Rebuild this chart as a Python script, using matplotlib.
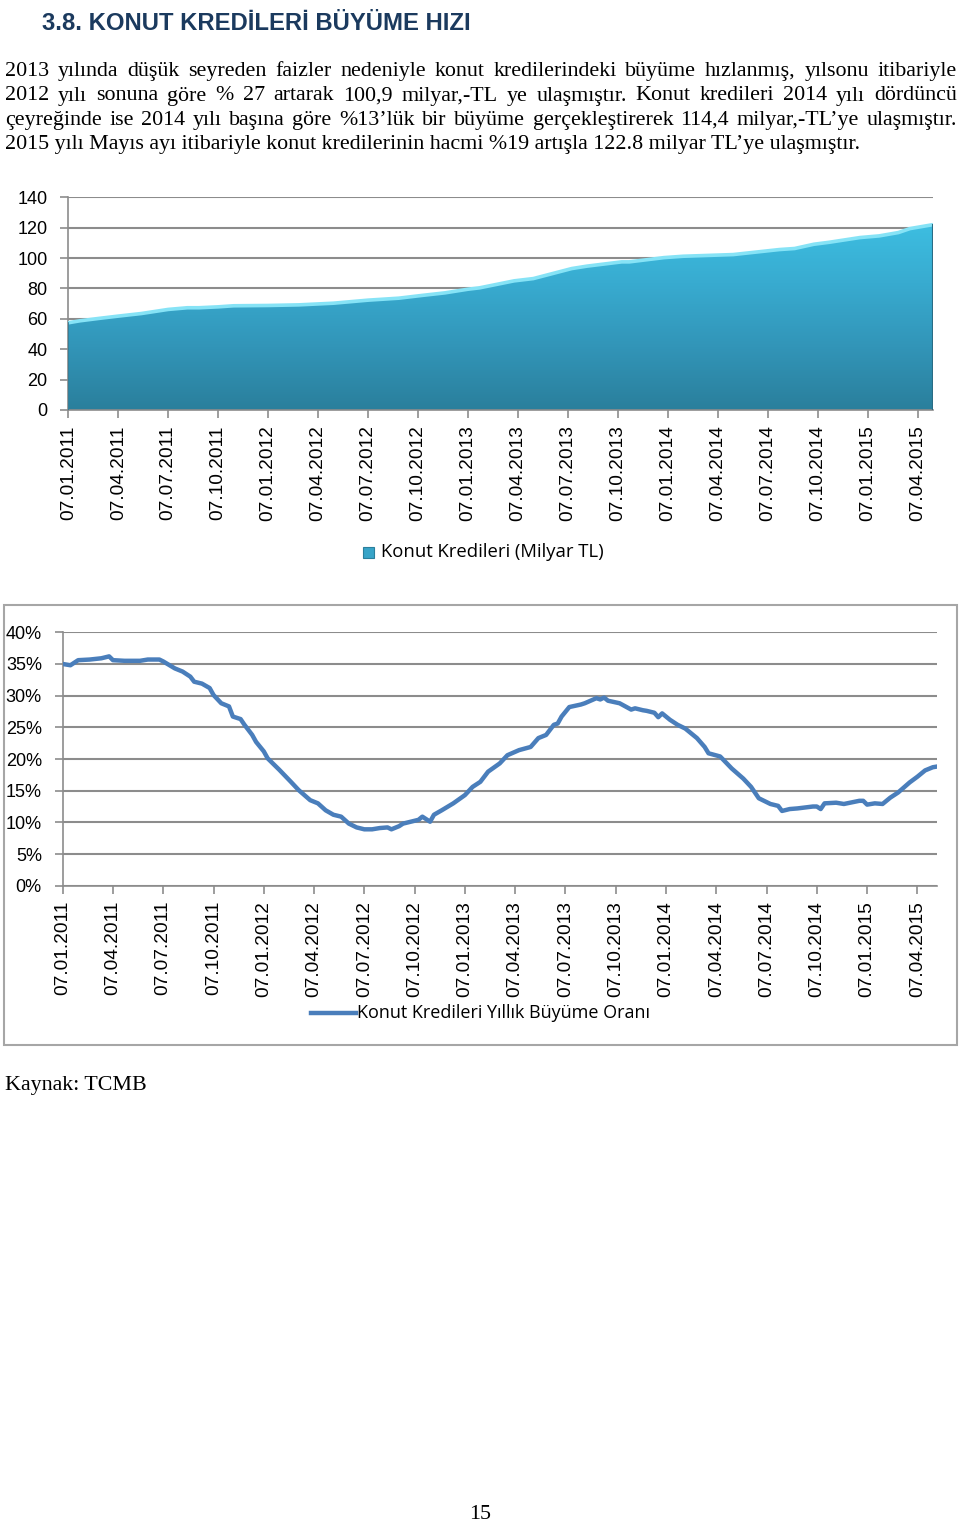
import numpy as np
import matplotlib
matplotlib.use("Agg")
import matplotlib.pyplot as plt
from matplotlib.patches import Rectangle
from matplotlib.lines import Line2D
from matplotlib.colors import LinearSegmentedColormap

# ---------------- data ----------------
quarter_labels = ["07.01.2011", "07.04.2011", "07.07.2011", "07.10.2011",
                  "07.01.2012", "07.04.2012", "07.07.2012", "07.10.2012",
                  "07.01.2013", "07.04.2013", "07.07.2013", "07.10.2013",
                  "07.01.2014", "07.04.2014", "07.07.2014", "07.10.2014",
                  "07.01.2015", "07.04.2015"]
weeks_per_quarter = 13

# Konut Kredileri (Milyar TL) - week index since 07.01.2011
level_weeks = [0, 3, 8, 13, 19, 26, 31, 34, 39, 43, 52, 60, 69, 78, 86, 92, 98, 104, 107, 116,
               121, 131, 135, 144, 146, 155, 160, 173, 177, 185, 189, 194, 198, 206, 211, 216, 219, 225]
level_values = [57.4, 58.7, 60.3, 61.8, 63.5, 66.2, 67.3, 67.3, 67.9, 68.6, 68.8, 69.2, 70.3, 72.3,
                73.6, 75.4, 77.1, 79.5, 80.4, 85.0, 86.5, 93.1, 94.7, 97.5, 97.5, 100.3, 101.2,
                102.3, 103.4, 105.6, 106.3, 109.1, 110.4, 113.5, 114.6, 116.8, 119.4, 122.0]

# Konut Kredileri Yıllık Büyüme Oranı (%)
growth_weeks = [0, 2, 4, 7, 10, 12, 13, 16, 20, 22, 25, 26, 29, 31, 33, 34, 36, 38, 39, 41,
                43, 44, 46, 47, 49, 50, 52, 53, 56, 59, 61, 64, 66, 68, 70, 72, 74, 76, 78, 80,
                82, 84, 85, 87, 88, 90, 92, 93, 95, 96, 98, 101, 104, 106, 108, 110, 113, 115, 118, 121,
                123, 125, 127, 128, 129, 131, 134, 135, 138, 139, 140, 141, 144, 147, 148, 150, 151, 153, 154, 155,
                157, 159, 161, 164, 166, 167, 170, 173, 176, 178, 180, 183, 185, 186, 188, 190, 194, 195, 196, 197,
                200, 202, 206, 207, 208, 210, 212, 214, 216, 219, 221, 223, 225, 226]
growth_values = [35.0, 34.8, 35.6, 35.7, 35.9, 36.2, 35.6, 35.5, 35.5, 35.7, 35.7, 35.4, 34.3, 33.8, 33.0, 32.2, 31.9, 31.2, 30.1, 28.8,
                 28.3, 26.7, 26.3, 25.4, 23.8, 22.7, 21.2, 20.1, 18.3, 16.4, 15.1, 13.5, 13.0, 11.9, 11.2, 10.9, 9.8, 9.2, 8.9, 8.9,
                 9.1, 9.2, 8.9, 9.4, 9.8, 10.1, 10.4, 10.9, 10.1, 11.2, 11.9, 13.0, 14.3, 15.6, 16.4, 18.0, 19.3, 20.6, 21.4, 21.9,
                 23.3, 23.8, 25.4, 25.6, 26.7, 28.2, 28.6, 28.8, 29.6, 29.4, 29.7, 29.2, 28.8, 27.8, 28.0, 27.7, 27.6, 27.3, 26.6, 27.2,
                 26.2, 25.4, 24.8, 23.3, 21.9, 20.9, 20.4, 18.5, 16.9, 15.6, 13.8, 12.9, 12.6, 11.8, 12.1, 12.2, 12.5, 12.5, 12.1, 13.0,
                 13.1, 12.9, 13.4, 13.4, 12.8, 13.0, 12.9, 13.9, 14.7, 16.3, 17.2, 18.2, 18.7, 18.8]

title_text = "3.8. KONUT KREDİLERİ BÜYÜME HIZI"
para_lines = [
    "2013 yılında düşük seyreden faizler nedeniyle konut kredilerindeki büyüme hızlanmış, yılsonu itibariyle",
    "2012 yılı sonuna göre % 27 artarak 100,9 milyar,-TL ye ulaşmıştır. Konut kredileri 2014 yılı dördüncü",
    "çeyreğinde ise 2014 yılı başına göre %13’lük bir büyüme gerçekleştirerek 114,4 milyar,-TL’ye ulaşmıştır.",
    "2015 yılı Mayıs ayı itibariyle konut kredilerinin hacmi %19 artışla 122.8 milyar TL’ye ulaşmıştır.",
]
legend1_text = "Konut Kredileri (Milyar TL)"
legend2_text = "Konut Kredileri Yıllık Büyüme Oranı"
source_text = "Kaynak: TCMB"
page_text = "15"

# ---------------- layout helpers ----------------
W, H = 960, 1521
fig = plt.figure(figsize=(W / 100, H / 100), dpi=100)
fig.patch.set_facecolor("white")


def fx(x):
    return x / W


def fy(y):
    return 1 - y / H


def add_axes_px(left, top, right, bottom):
    return fig.add_axes([fx(left), fy(bottom), (right - left) / W, (bottom - top) / H])


GRID = "#8c8c8c"
TICKFONT = "Liberation Sans"
SERIF = ["Liberation Serif", "DejaVu Serif"]
LEGFONT = ["Open Sans", "DejaVu Sans"]

renderer = fig.canvas.get_renderer()

# ---------------- title & paragraph ----------------
title = fig.text(fx(42), fy(30), title_text, fontsize=19, fontweight="bold", color="#1b3a5e",
                 family=["Liberation Sans Narrow", "Liberation Sans", "DejaVu Sans"], va="baseline")
tw = title.get_window_extent(renderer).width
title.set_fontsize(19 * min(1.0, 428 / tw))

probe = fig.text(0, 0, para_lines[3], fontsize=14, family=SERIF)
w_last = probe.get_window_extent(renderer).width
probe.remove()
body_fs = 14 * 861 / w_last

baselines = [76, 100.5, 125, 149.5]
for i, line in enumerate(para_lines):
    y = baselines[i]
    if i == len(para_lines) - 1:
        fig.text(fx(5), fy(y), line, fontsize=body_fs, family=SERIF, va="baseline")
        continue
    words = line.split(" ")
    texts = [fig.text(0, fy(y), w, fontsize=body_fs, family=SERIF, va="baseline") for w in words]
    widths = [t.get_window_extent(renderer).width for t in texts]
    gap = (957 - 5 - sum(widths)) / (len(words) - 1)
    x = 5
    for t, wdt in zip(texts, widths):
        t.set_x(fx(x))
        x += wdt + gap


def style_axes(ax):
    ax.tick_params(axis="y", labelsize=13, length=6, width=1.2, color=GRID, pad=9)
    ax.tick_params(axis="x", length=6, width=1.2, color=GRID, pad=5)
    for lab in ax.get_yticklabels():
        lab.set_family(TICKFONT)
    ax.grid(axis="y", color=GRID, lw=1.5, zorder=0)
    ax.set_axisbelow(True)
    for s in ["top", "right"]:
        ax.spines[s].set_visible(False)
    for s in ["left", "bottom"]:
        ax.spines[s].set_color(GRID)
        ax.spines[s].set_linewidth(1.2)


# ---------------- chart 1: area ----------------
ax1 = add_axes_px(68.3, 197.3, 933, 410)
ax1.set_xlim(0, 225)
ax1.set_ylim(0, 140)
ax1.set_yticks(range(0, 141, 20))
ax1.set_xticks([i * weeks_per_quarter for i in range(len(quarter_labels))])
ax1.set_xticklabels(quarter_labels, rotation=90, fontsize=13.8, family=TICKFONT, va="top")
style_axes(ax1)

poly = ax1.fill_between(level_weeks, level_values, 0, color="none", zorder=2)
cmap = LinearSegmentedColormap.from_list("area", ["#2a7f9c", "#3295b8", "#38abd0", "#3dbfe2"])
grad = np.linspace(0, 1, 256).reshape(-1, 1)
im = ax1.imshow(grad, cmap=cmap, origin="lower", extent=[0, 225, 0, 125], aspect="auto", zorder=2)
im.set_clip_path(poly.get_paths()[0], transform=ax1.transData)
ax1.set_xlim(0, 225)
ax1.set_ylim(0, 140)
ax1.plot(level_weeks, level_values, color="#86e3f6", lw=2.6, zorder=3, solid_capstyle="butt")
ax1.plot([level_weeks[-1], level_weeks[-1]], [0, level_values[-1]], color="#2a6c84", lw=1.5, zorder=3)
ax1.plot([level_weeks[0], level_weeks[0]], [0, level_values[0]], color="#2a7a96", lw=1.2, zorder=3)

# legend 1
fig.patches.append(Rectangle((fx(363), fy(558)), 11 / W, 11 / H, transform=fig.transFigure,
                             facecolor="#37a4c8", edgecolor="#2a7f9c", lw=0.8))
fig.text(fx(381), fy(552), legend1_text, fontsize=13.3, family=LEGFONT, va="center")

# ---------------- chart 2: line ----------------
fig.patches.append(Rectangle((fx(4), fy(1045)), (957 - 4) / W, (1045 - 605) / H, transform=fig.transFigure,
                             facecolor="none", edgecolor="#a6a6a6", lw=1.5))
ax2 = add_axes_px(62.7, 632.3, 936.7, 885.7)
ax2.plot(growth_weeks, growth_values, color="#4a7ebb", lw=3.2, zorder=3, solid_joinstyle="round")
ax2.set_xlim(0, 226)
ax2.set_ylim(0, 40)
ax2.set_yticks(range(0, 41, 5))
ax2.set_yticklabels([f"{v}%" for v in range(0, 41, 5)])
ax2.set_xticks([i * weeks_per_quarter for i in range(len(quarter_labels))])
ax2.set_xticklabels(quarter_labels, rotation=90, fontsize=13.8, family=TICKFONT, va="top")
style_axes(ax2)

# legend 2
fig.lines.append(Line2D([fx(311), fx(356)], [fy(1013), fy(1013)], transform=fig.transFigure,
                        color="#4a7ebb", lw=3.2))
fig.text(fx(357), fy(1013), legend2_text, fontsize=13.0, family=LEGFONT, va="center")

# ---------------- footer ----------------
fig.text(fx(5), fy(1090), source_text, fontsize=body_fs, family=SERIF, va="baseline")
fig.text(fx(480), fy(1519), page_text, fontsize=body_fs, family=SERIF, va="baseline", ha="center")

fig.savefig("out.png", dpi=100, facecolor="white")
